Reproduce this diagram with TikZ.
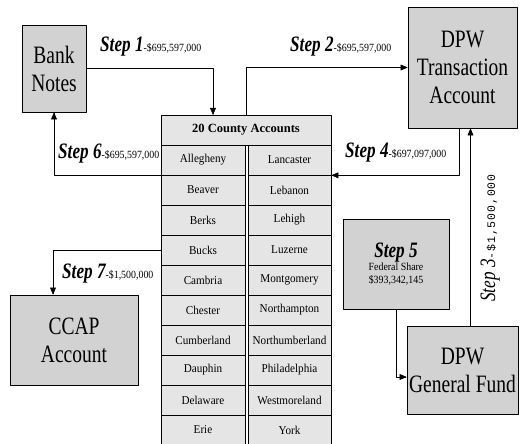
\documentclass[tikz,border=0pt]{standalone}
\usepackage{fontspec}
\setmainfont{Liberation Serif}
\newfontfamily\boxfont[FakeStretch=0.78]{Liberation Serif}
\newfontfamily\stepfont[FakeStretch=0.78]{Liberation Serif}
\newfontfamily\cellfont[FakeStretch=0.93]{Liberation Serif}
\newfontfamily\amtfont[FakeStretch=0.9]{Liberation Serif}
\newfontfamily\monoamt[LetterSpace=8]{Liberation Mono}
\usetikzlibrary{arrows}

\newcommand{\steplabel}[2]{{\stepfont\bfseries\itshape\fontsize{22}{24}\selectfont Step #1}{\amtfont\fontsize{11}{12}\selectfont -\$#2}}

\begin{document}
\begin{tikzpicture}[x=1pt,y=-1pt,line cap=round,line join=round,>=triangle 45,
  bigbox/.style={draw,line width=0.6pt,fill=gray!35,inner sep=0pt,align=center,font=\boxfont\fontsize{25}{28}\selectfont},
  cell/.style={draw,line width=0.6pt,fill=gray!20,inner sep=0pt,minimum height=30pt,font=\cellfont\fontsize{12}{14}\selectfont},
  flow/.style={line width=0.6pt,->}]
\useasboundingbox (0,0) rectangle (525,444);
\node[bigbox,minimum width=64pt,minimum height=87pt] (bank) at (54,68.5) {Bank\\Notes};
\node[bigbox,minimum width=109pt,minimum height=121pt] (dpwt) at (462.5,67.5) {DPW\\Transaction\\Account};
\node[bigbox,minimum width=128pt,minimum height=90pt] (ccap) at (74,340) {CCAP\\Account};
\node[bigbox,minimum width=111pt,minimum height=88pt] (dpwg) at (462.5,370) {DPW\\General Fund};
\node[bigbox,minimum width=106pt,minimum height=90pt,font=\amtfont\fontsize{11}{13}\selectfont] (fed) at (396,264)
  {{\stepfont\bfseries\itshape\fontsize{22}{24}\selectfont Step 5}\\Federal Share\\\$393,342,145};
% county table
\node[cell,minimum width=170pt,font=\bfseries\fontsize{12.5}{14}\selectfont] (hdr) at (246,130) {20 County Accounts};
\foreach \lname/\rname [count=\i from 0] in {Allegheny/Lancaster,Beaver/Lebanon,Berks/Lehigh,Bucks/Luzerne,Cambria/Montgomery,Chester/Northampton,Cumberland/Northumberland,Dauphin/Philadelphia,Delaware/Westmoreland,Erie/York}{
  \node[cell,minimum width=84pt] (l\i) at (203,160+30*\i) {\lname};
  \node[cell,minimum width=83pt] (r\i) at (289.5,160+30*\i) {\rname};
}
% flows
\coordinate (in1) at (213,115);
\draw[flow] (bank.east) -| (in1);
\draw[flow] (hdr.north) |- (dpwt.west);
\draw[flow] ([xshift=8pt]dpwg.north) -- ([xshift=8pt]dpwt.south);
\draw[flow] ([xshift=-3.5pt]dpwt.south) |- (r0.south east);
\draw[flow] (fed.south) |- ([yshift=-7pt]dpwg.west);
\draw[flow] (l0.south west) -| (bank.south);
\draw[flow] (l3.west) -| ([xshift=-21pt]ccap.north);
\node[anchor=base west,inner sep=0pt] (lab1) at (100,52) {\steplabel{1}{695,597,000}};
\node[anchor=base west,inner sep=0pt] (lab2) at (290,52) {\steplabel{2}{695,597,000}};
\node[anchor=base west,inner sep=0pt,rotate=90] (lab3) at (495,302)
  {{\stepfont\itshape\fontsize{22}{24}\selectfont Step 3}{\monoamt\fontsize{11.5}{12}\selectfont -\$1,500,000}};
\node[anchor=base west,inner sep=0pt] (lab4) at (345,157) {\steplabel{4}{697,097,000}};
\node[anchor=base west,inner sep=0pt] (lab6) at (58,158) {\steplabel{6}{695,597,000}};
\node[anchor=base west,inner sep=0pt] (lab7) at (62,278) {\steplabel{7}{1,500,000}};
\end{tikzpicture}
\end{document}
